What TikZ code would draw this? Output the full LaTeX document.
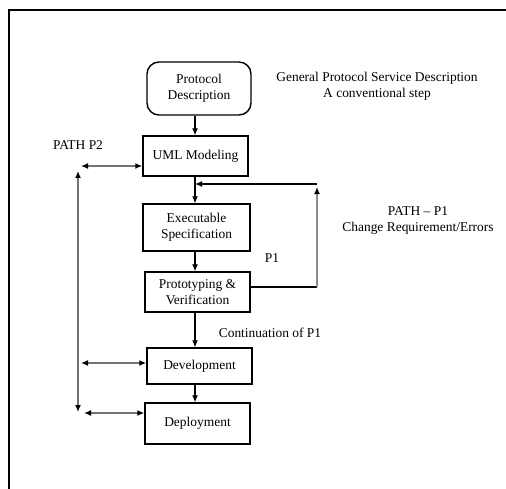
\documentclass[tikz,border=0pt]{standalone}
\usepackage{fontspec}
\setmainfont{Liberation Serif}
\usetikzlibrary{arrows.meta}
\begin{document}
\begin{tikzpicture}[x=1bp,y=-1bp,
  font=\fontsize{13.5}{16}\selectfont,
  box/.style={draw,line width=1.4bp,minimum width=105bp,align=center,inner sep=2bp},
  rbox/.style={box,rounded corners=12bp},
  tip/.style={},
  arr/.style={line width=1.2bp,-{Latex[length=7bp,width=6bp]}},
  darr/.style={line width=1.6bp,draw=black!55,{Latex[length=7bp,width=6bp,fill=black,color=black]}-{Latex[length=7bp,width=6bp,fill=black,color=black]}},
  garr/.style={line width=1.6bp,draw=black!45},
  lbl/.style={align=center,inner sep=0pt}]
\useasboundingbox (0,0) rectangle (506,489);
\fill[white] (0,0) rectangle (506,489);
% frame
\draw[line width=1.2bp] (9,489) -- (9,10) -- (506,10);

% nodes
\node[rbox,minimum width=104bp,minimum height=53bp] (pd) at (199,88.5) {Protocol\\Description};
\node[box,minimum height=40bp] (uml) at (195.5,156) {UML Modeling};
\node[box,minimum width=107bp,minimum height=47bp] (exe) at (196.5,227.5) {Executable\\Specification};
\node[box,minimum height=40bp] (pv) at (197.5,292) {Prototyping \&\\Verification};
\node[box,minimum height=36bp] (dev) at (199.5,366) {Development};
\node[box,minimum height=41bp] (dep) at (197.5,423.5) {Deployment};

% labels
\node[lbl] (gen) at (377,86.5) {General Protocol Service Description\\A conventional step};
\node[lbl] (p2) at (78,145) {PATH P2};
\node[lbl] (p1) at (418,220.5) {PATH -- P1\\Change Requirement/Errors};
\node[lbl] (p1s) at (272,258) {P1};
\node[lbl] (cont) at (270,333) {Continuation of P1};

% column and helper coordinates
\coordinate (col) at (195,0);
\coordinate (fbtop) at (317,184);
\coordinate (p2top) at (81,166);
\coordinate (p2vt) at (78,171);
\coordinate (p2vb) at (78,412);
\coordinate (devl) at (81,363);
\coordinate (depl) at (84,413);

% main flow
\draw[arr] (pd.south -| col) -- (uml.north -| col);
\draw[arr] (uml.south -| col) -- (exe.north -| col);
\draw[arr] (exe.south -| col) -- (pv.north -| col);
\draw[arr] (pv.south -| col) -- (dev.north -| col);
\draw[arr] (dev.south -| col) -- (dep.north -| col);

% feedback path P1
\draw[line width=1.4bp] (pv.east |- 0,287) -- (317,287);
\draw[garr,-{Latex[length=7bp,width=6bp,fill=black,color=black]}] (317,287) -- (317,187);
\draw[arr] (fbtop) -- (col |- fbtop);

% path P2
\draw[darr] (p2top) -- (uml.west |- p2top);
\draw[darr] (p2vt) -- (p2vb);
\draw[darr] (devl) -- (dev.west |- devl);
\draw[darr] (depl) -- (dep.west |- depl);
\end{tikzpicture}
\end{document}
